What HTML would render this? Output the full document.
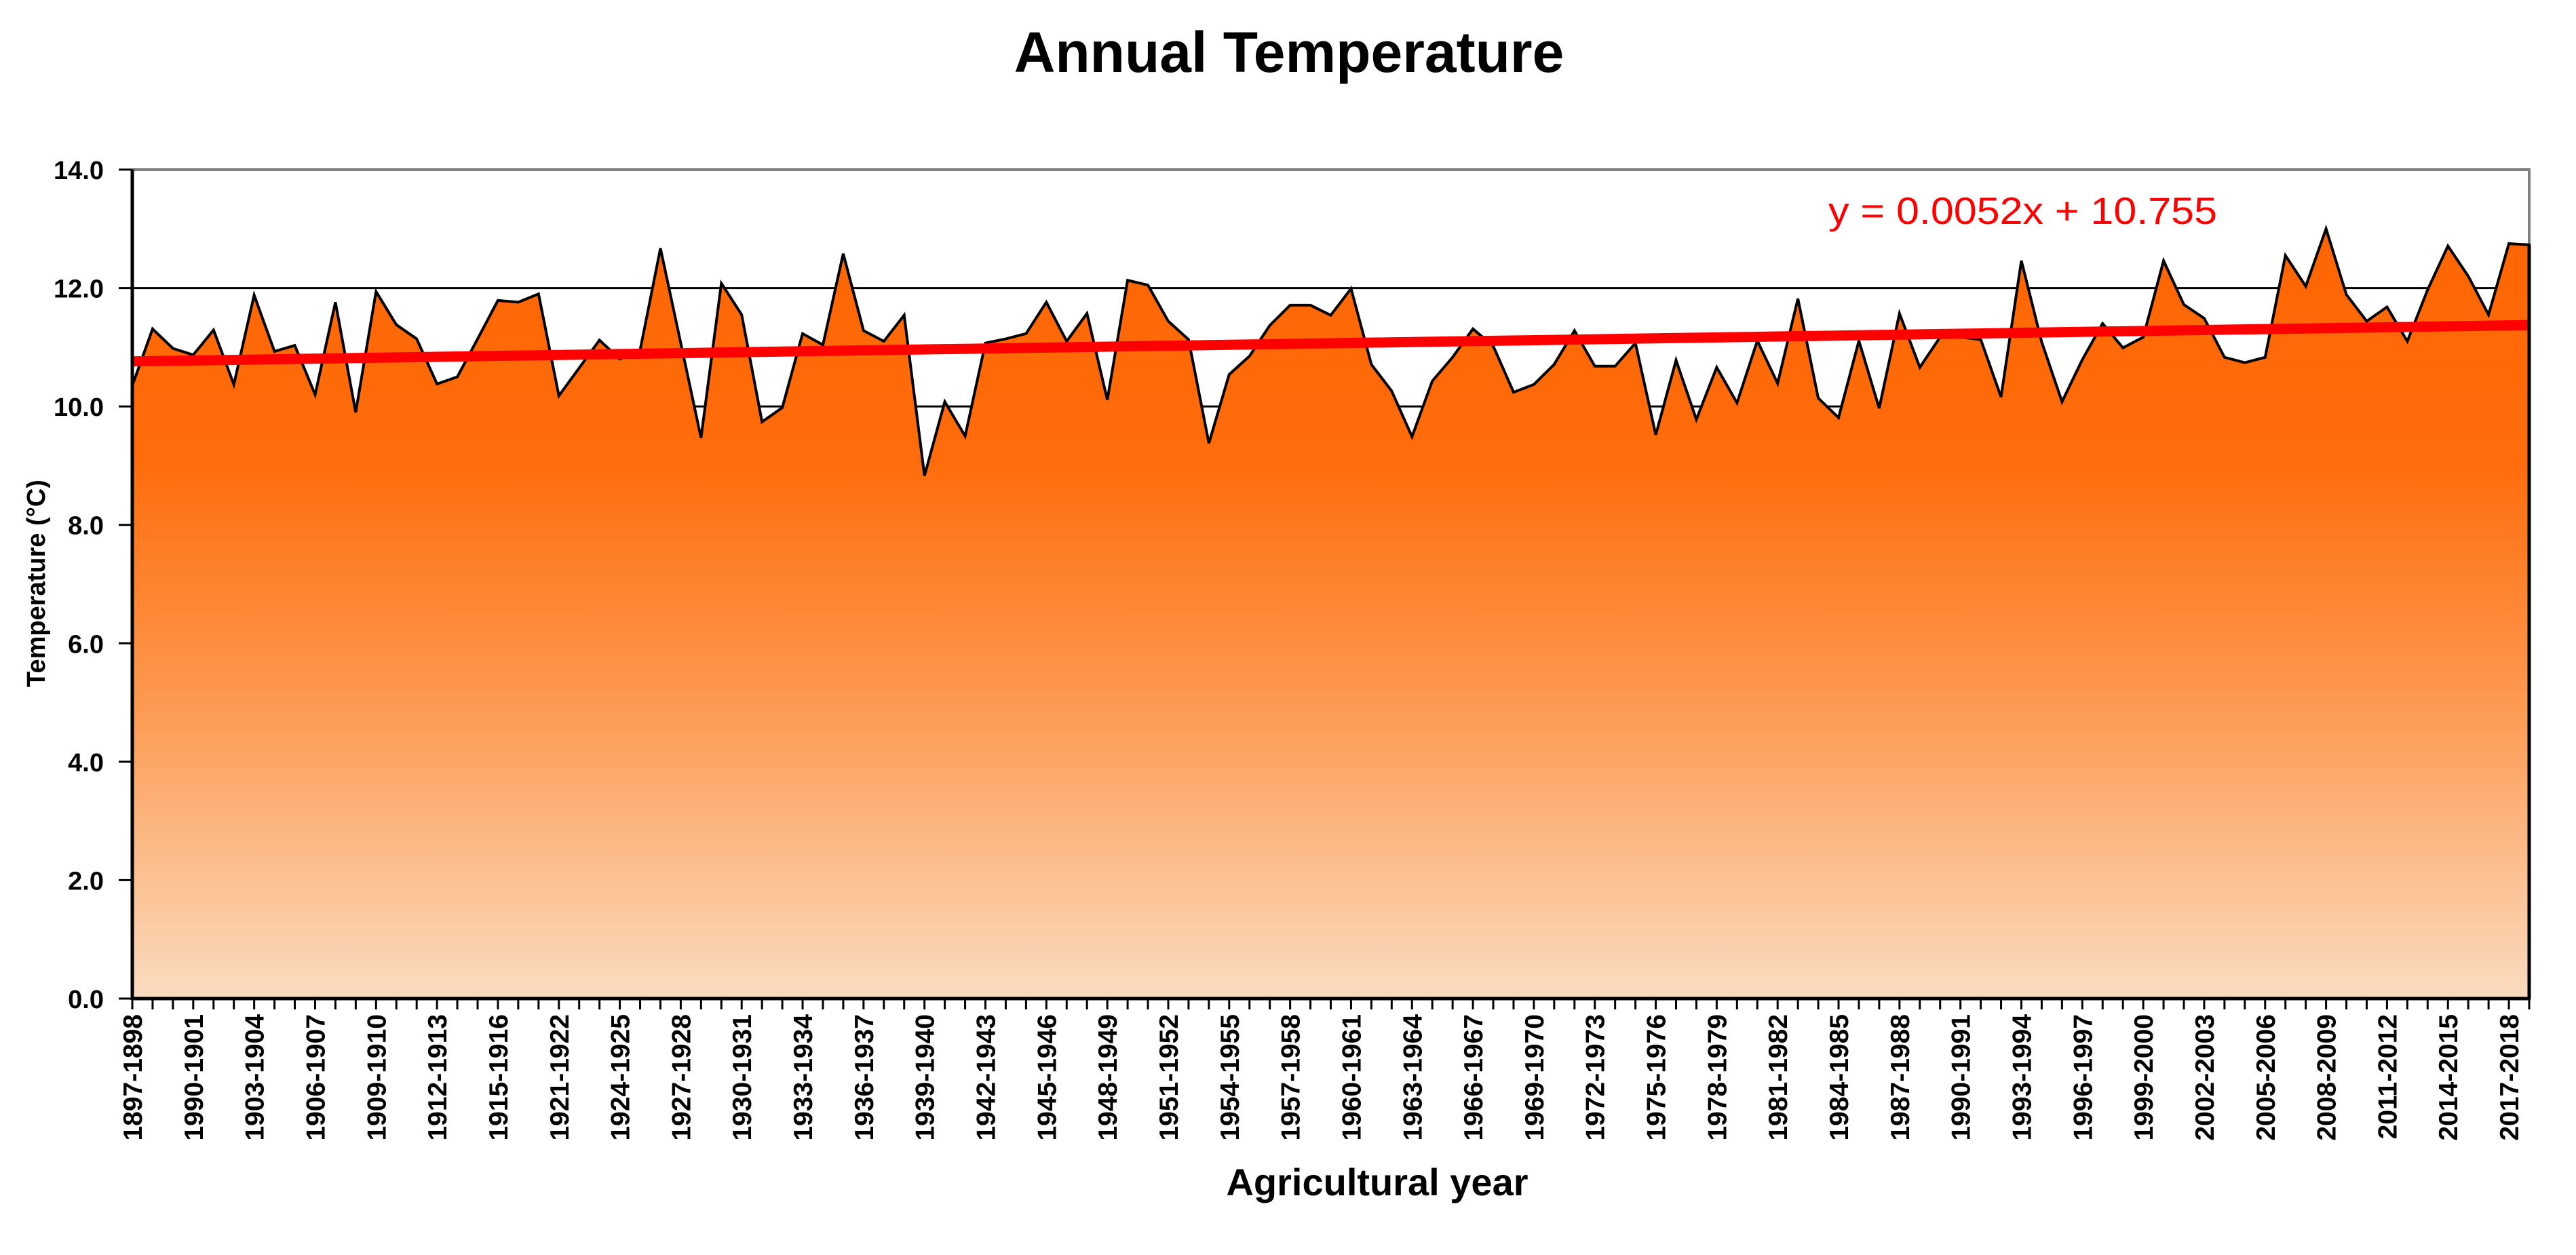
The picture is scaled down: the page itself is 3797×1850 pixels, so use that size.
<!DOCTYPE html>
<html><head><meta charset="utf-8"><style>
html,body{margin:0;padding:0;background:#fff;}
svg{display:block;font-family:"Liberation Sans",Arial,sans-serif;}
</style></head><body>
<svg id="chart" width="3797" height="1850" viewBox="0 0 3797 1850" xmlns="http://www.w3.org/2000/svg">
<defs>
<linearGradient id="fillGrad" gradientUnits="userSpaceOnUse" x1="0" y1="250" x2="0" y2="1472">
<stop offset="0" stop-color="#ff6400"/>
<stop offset="0.35" stop-color="#ff6c0c"/>
<stop offset="0.65" stop-color="#fd9a52"/>
<stop offset="1" stop-color="#fadcc0"/>
</linearGradient>
</defs>
<text x="1900" y="106" text-anchor="middle" font-size="84" font-weight="bold">Annual  Temperature</text>
<g id="plot"></g>
<text x="2030" y="1762" text-anchor="middle" font-size="56" font-weight="bold">Agricultural year</text>
<text transform="translate(66,860) rotate(-90)" text-anchor="middle" font-size="38" font-weight="bold">Temperature (°C)</text>
<text x="2695" y="330" font-size="56" fill="#ff0000" textLength="573" lengthAdjust="spacingAndGlyphs">y = 0.0052x + 10.755</text>
</svg>
<script>
const values = [10.35,11.31,10.98,10.87,11.29,10.37,11.88,10.93,11.03,10.20,
11.76,9.90,11.94,11.38,11.14,10.38,10.50,11.14,11.79,11.76,
11.90,10.18,10.65,11.12,10.80,10.95,12.67,11.07,9.47,12.08,
11.55,9.74,9.98,11.23,11.04,12.58,11.28,11.10,11.54,8.83,
10.08,9.50,11.07,11.14,11.23,11.76,11.10,11.57,10.11,12.13,
12.05,11.44,11.13,9.38,10.54,10.85,11.37,11.71,11.71,11.54,
11.99,10.71,10.26,9.49,10.43,10.83,11.31,11.02,10.24,10.37,
10.71,11.28,10.68,10.68,11.07,9.52,10.78,9.78,10.66,10.06,
11.11,10.39,11.82,10.14,9.81,11.11,9.97,11.57,10.66,11.17,
11.17,11.13,10.16,12.46,11.09,10.08,10.79,11.40,10.99,11.17,
12.46,11.72,11.49,10.83,10.74,10.83,12.55,12.03,13.00,11.89,
11.44,11.68,11.10,11.97,12.71,12.20,11.55,12.75,12.73];
const tickLabels = ["1897-1898","1990-1901","1903-1904","1906-1907","1909-1910","1912-1913","1915-1916","1921-1922","1924-1925","1927-1928","1930-1931","1933-1934","1936-1937","1939-1940","1942-1943","1945-1946","1948-1949","1951-1952","1954-1955","1957-1958","1960-1961","1963-1964","1966-1967","1969-1970","1972-1973","1975-1976","1978-1979","1981-1982","1984-1985","1987-1988","1990-1991","1993-1994","1996-1997","1999-2000","2002-2003","2005-2006","2008-2009","2011-2012","2014-2015","2017-2018"];
const yTicks = [0,2,4,6,8,10,12,14];
const trendSlope = 0.0052;
const trendIntercept = 10.755;

const NS = "http://www.w3.org/2000/svg";
const L = 195, R = 3728, T = 250, B = 1472;
const n = values.length;
const xs = i => L + (R - L) * i / (n - 1);
const ys = v => B - (B - T) * v / 14;
const g = document.getElementById('plot');
function mk(tag, attrs){ const e = document.createElementNS(NS, tag); for (const k in attrs) e.setAttribute(k, attrs[k]); g.appendChild(e); return e; }

yTicks.forEach(t => {
  if (t === 0 || t === 14) return;
  const gl = mk('line', {x1:L, x2:R, y1:ys(t), y2:ys(t), stroke:'#000', 'stroke-width':3});
  
  
});
const border = mk('path', {d:`M${L},${T} H${R} V${B}`, fill:'none', stroke:'#808080', 'stroke-width':4});



let d = `M${xs(0)},${B}`;
values.forEach((v,i) => { d += ` L${xs(i).toFixed(1)},${ys(v).toFixed(1)}`; });
d += ` L${xs(n-1)},${B} Z`;
const area = mk('path', {d:d, fill:'url(#fillGrad)', stroke:'none'});


let ld = '';
values.forEach((v,i) => { ld += (i ? ' L' : 'M') + xs(i).toFixed(1) + ',' + ys(v).toFixed(1); });
ld += ` L${xs(n-1)},${B}`;
const line = mk('path', {d:ld, fill:'none', stroke:'#000', 'stroke-width':4, 'stroke-linejoin':'miter'});



const tr = mk('line', {x1:xs(0), y1:ys(trendIntercept + trendSlope*1), x2:xs(n-1), y2:ys(trendIntercept + trendSlope*n), stroke:'#ff0000', 'stroke-width':15});



const ya = mk('line', {x1:L, x2:L, y1:T, y2:B+2, stroke:'#000', 'stroke-width':5});


const xa = mk('line', {x1:L-2, x2:R+2, y1:B, y2:B, stroke:'#000', 'stroke-width':5});


const ra = mk('line', {x1:R, x2:R, y1:ys(values[n-1]), y2:B, stroke:'#000', 'stroke-width':5});



yTicks.forEach(t => {
  const tk = mk('line', {x1:L-20, x2:L, y1:ys(t), y2:ys(t), stroke:'#000', 'stroke-width':3});
  
  
  const lb = mk('text', {x:153, y:ys(t)+14, 'text-anchor':'end', 'font-size':38, 'font-weight':'bold'});
  lb.textContent = t.toFixed(1);
  
  
});
for (let i = 0; i < n; i++) {
  const tk = mk('line', {x1:xs(i), x2:xs(i), y1:B, y2:B+16, stroke:'#000', 'stroke-width':3});
  
  
}
tickLabels.forEach((s,k) => {
  const x = xs(k*3);
  const lb = mk('text', {transform:`translate(${x+14},1495) rotate(-90)`, 'text-anchor':'end', 'font-size':39, 'font-weight':'bold'});
  lb.textContent = s;
  
  
});
</script>
</body></html>
